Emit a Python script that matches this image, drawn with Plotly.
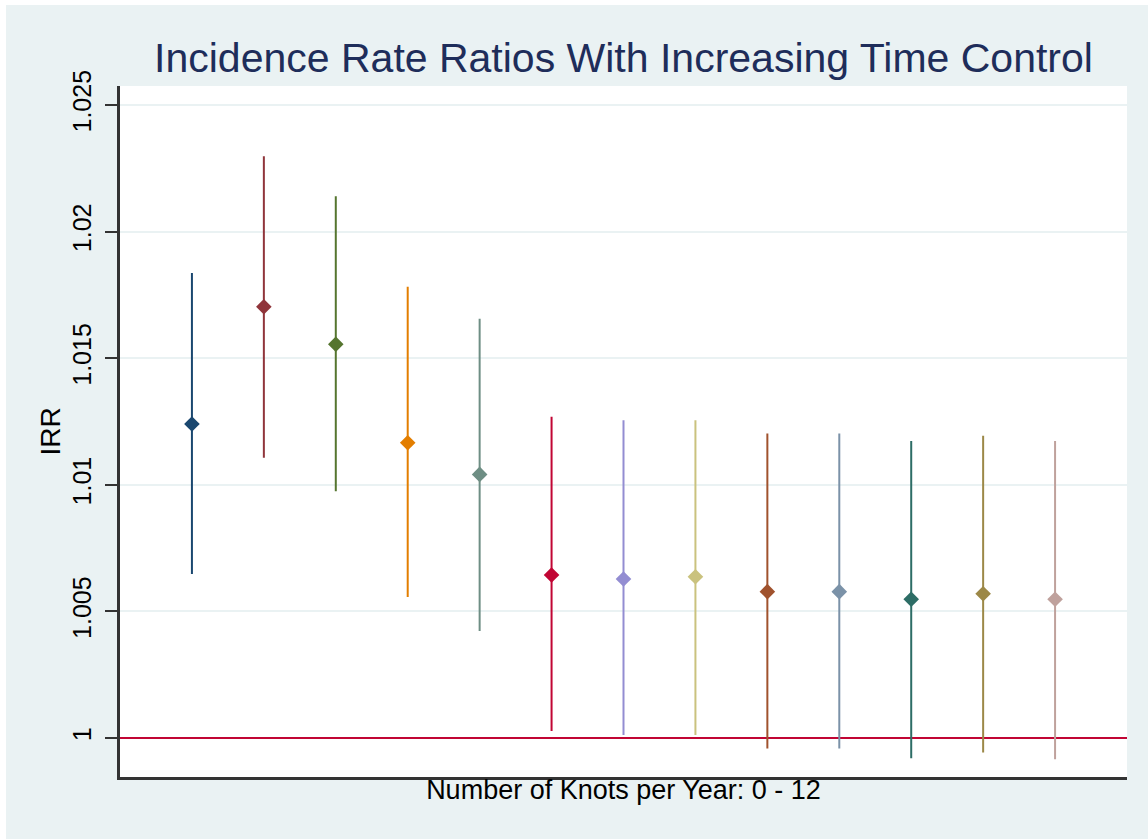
import plotly.graph_objects as go

# ---- data ----
knots = list(range(13))
irr = [1.01240, 1.01703, 1.01555, 1.01166, 1.01041, 1.00644, 1.00628,
       1.00637, 1.00578, 1.00578, 1.00548, 1.00570, 1.00548]
upper = [1.01836, 1.02298, 1.02140, 1.01782, 1.01656, 1.01269, 1.01255,
         1.01255, 1.01203, 1.01203, 1.01173, 1.01194, 1.01173]
lower = [1.00648, 1.01107, 1.00975, 1.00557, 1.00423, 1.00028, 1.00012,
         1.00012, 0.99959, 0.99959, 0.99920, 0.99943, 0.99916]
colors = ["#1A476F", "#90353B", "#55752F", "#E37E00", "#6E8E84", "#C10534",
          "#938DD2", "#CAC27E", "#A0522D", "#7B92A8", "#2D6D66", "#9C8847",
          "#BFA19C"]
ytick_vals = [1.0, 1.005, 1.01, 1.015, 1.02, 1.025]
ytick_text = ["1", "1.005", "1.01", "1.015", "1.02", "1.025"]
reference_irr = 1.0
x_range = [-1, 13]
y_range = [0.99846, 1.02575]

W, H = 1148, 839
ML, MR, MT, MB = 120, 21, 86, 62
PW, PH = W - ML - MR, H - MT - MB
BG = "#EAF2F3"
FONT = "Liberation Sans, Arial, sans-serif"

fig = go.Figure()
# reference line at IRR = 1 (drawn first, under the estimates)
fig.add_trace(go.Scatter(
    x=x_range, y=[reference_irr, reference_irr], mode="lines",
    line=dict(color="#C10534", width=2), showlegend=False, hoverinfo="skip",
))
for k, v, lo, hi, c in zip(knots, irr, lower, upper, colors):
    fig.add_trace(go.Scatter(
        x=[k], y=[v], mode="markers",
        marker=dict(symbol="diamond", size=12, color=c, line=dict(width=0)),
        error_y=dict(type="data", symmetric=False, array=[hi - v],
                     arrayminus=[v - lo], color=c, thickness=2, width=0),
        showlegend=False,
    ))

# white strips at the top and left edge of the image
fig.add_shape(type="rect", xref="paper", yref="paper",
              x0=-ML / PW, x1=1 + MR / PW,
              y0=(PH + MT - 5) / PH, y1=(PH + MT) / PH,
              fillcolor="white", line=dict(width=0), layer="below")
fig.add_shape(type="rect", xref="paper", yref="paper",
              x0=-ML / PW, x1=(-ML + 6) / PW,
              y0=-MB / PH, y1=(PH + MT) / PH,
              fillcolor="white", line=dict(width=0), layer="below")

fig.update_layout(
    width=W, height=H,
    margin=dict(l=ML, r=MR, t=MT, b=MB, pad=0),
    paper_bgcolor=BG, plot_bgcolor="white",
    font=dict(family=FONT, color="black"),
    title=dict(text="Incidence Rate Ratios With Increasing Time Control",
               x=(ML + PW / 2) / W, xanchor="center",
               y=1 - 58 / H, yanchor="middle", yref="container",
               font=dict(size=41, color="#1E2D5A", family=FONT)),
    xaxis=dict(range=x_range, showticklabels=False, ticks="",
               showgrid=False, zeroline=False,
               showline=True, linecolor="#333333", linewidth=2.5,
               title=dict(text="Number of Knots per Year: 0 - 12",
                          font=dict(size=27, color="black"), standoff=2)),
    yaxis=dict(range=y_range, tickvals=ytick_vals,
               ticktext=ytick_text, tickangle=-90,
               tickfont=dict(size=25, color="black"),
               ticks="outside", ticklen=12, tickwidth=2, tickcolor="#333333",
               ticklabelstandoff=4,
               showgrid=True, gridcolor=BG, gridwidth=1.5, zeroline=False,
               showline=True, linecolor="#333333", linewidth=2.5,
               title=dict(text="IRR", font=dict(size=28, color="black"),
                          standoff=0)),
)

fig.write_html("out.html",
               config={"displayModeBar": False},
               post_script="document.body.style.margin='0';"
                           "document.body.style.overflow='hidden';")
